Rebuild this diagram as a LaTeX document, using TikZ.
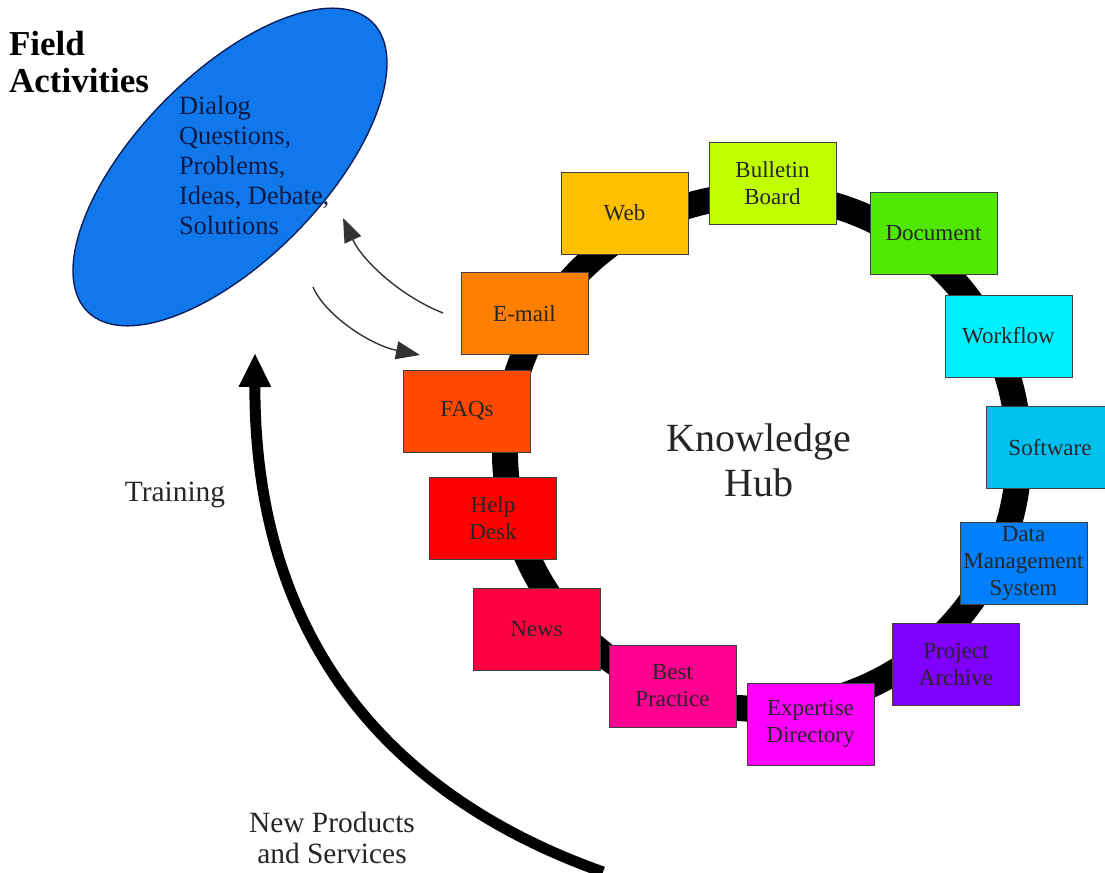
\documentclass[tikz,border=0pt]{standalone}
\usepackage{fontspec}
\setmainfont{Liberation Serif}
\usepackage{tikz}
\usetikzlibrary{shapes.geometric}
\usetikzlibrary{arrows.meta}

\definecolor{fieldblue}{RGB}{16,120,235}
\definecolor{fieldline}{RGB}{10,30,90}
\definecolor{fieldtext}{RGB}{15,25,70}
\definecolor{webC}{RGB}{255,192,0}
\definecolor{bulletinC}{RGB}{192,255,0}
\definecolor{documentC}{RGB}{80,232,0}
\definecolor{workflowC}{RGB}{0,240,255}
\definecolor{softwareC}{RGB}{0,192,240}
\definecolor{dataC}{RGB}{0,128,255}
\definecolor{projectC}{RGB}{128,0,255}
\definecolor{expertC}{RGB}{255,0,255}
\definecolor{practiceC}{RGB}{255,0,144}
\definecolor{newsC}{RGB}{255,0,64}
\definecolor{helpC}{RGB}{255,0,0}
\definecolor{faqC}{RGB}{255,72,0}
\definecolor{mailC}{RGB}{255,128,0}

\begin{document}
\begin{tikzpicture}[x=0.5pt, y=-0.5pt,
		hubbox/.style={draw=black!75, line width=0.5pt, minimum width=63.5pt, minimum height=41pt,
			inner sep=1pt, align=center, text=black!85, font=\fontsize{11.5}{13.5}\selectfont},
		thinarrow/.style={draw=black!80, line width=0.7pt, -{Triangle[length=12pt,width=9pt]}},
		sidetext/.style={align=center, text=black!85, font=\fontsize{14.7}{15.5}\selectfont}]
				\useasboundingbox (0, 0) rectangle (1105, 873);
				% Field activities:
				\node[ellipse, fill=fieldblue, draw=fieldline, line width=0.7pt, minimum width=203pt,
					minimum height=93pt, inner sep=0pt, rotate=45.5](field) at (230, 167){};
				\node[anchor=west, align=left, text=fieldtext, font=\fontsize{13.2}{15}\selectfont](talk) at (172, 165){Dialog\\Questions,\\Problems,\\Ideas, Debate,\\Solutions};
				\node[anchor=west, align=left, font=\bfseries\fontsize{17.5}{18.5}\selectfont](fieldlabel) at (2, 62){Field\\Activities};
				% Hub ring and boxes:
				\coordinate (ringc) at (762, 452);
				\draw[line width=13pt] (ringc) circle[radius=257];
				\node[align=center, text=black!85, font=\fontsize{20}{22.5}\selectfont](hub) at (759, 460){Knowledge\\Hub};
				\node[hubbox, fill=webC](web) at (624.5, 213){Web};
				\node[hubbox, fill=bulletinC](bulletin) at (772.5, 183){Bulletin\\Board};
				\node[hubbox, fill=documentC](document) at (933.5, 233){Document};
				\node[hubbox, fill=workflowC](workflow) at (1008.5, 336){Workflow};
				\node[hubbox, fill=softwareC](software) at (1050, 447.5){Software};
				\node[hubbox, fill=dataC](data) at (1023.5, 563){Data\\Management\\System};
				\node[hubbox, fill=projectC](project) at (956, 664.5){Project\\Archive};
				\node[hubbox, fill=expertC](expert) at (810.5, 724){Expertise\\Directory};
				\node[hubbox, fill=practiceC](practice) at (672.5, 686){Best\\Practice};
				\node[hubbox, fill=newsC](news) at (536.5, 629){News};
				\node[hubbox, fill=helpC](help) at (493, 518.5){Help\\Desk};
				\node[hubbox, fill=faqC](faq) at (467, 411){FAQs};
				\node[hubbox, fill=mailC](mail) at (524.5, 313.5){E-mail};
				% Arrows between field and hub:
				\coordinate (mailout) at (443, 313);
				\coordinate (fieldin) at (343, 218);
				\coordinate (fieldout) at (313, 287);
				\coordinate (faqin) at (420, 355);
				\draw[thinarrow] (mailout) .. controls (400, 296) and (362, 260) .. (fieldin);
				\draw[thinarrow] (fieldout) .. controls (325, 315) and (370, 345) .. (faqin);
				% Training arrow:
				\coordinate (prodstart) at (603, 872);
				\coordinate (trainend) at (255, 353);
				\draw[line width=5.5pt, -{Triangle[length=17pt,width=15pt]}] (prodstart) .. controls (400, 800) and (254, 650) .. (trainend);
				\node[sidetext](training) at (175, 495){Training};
				\node[sidetext](products) at (332, 838){New Products\\and Services};
			\end{tikzpicture}
\end{document}
